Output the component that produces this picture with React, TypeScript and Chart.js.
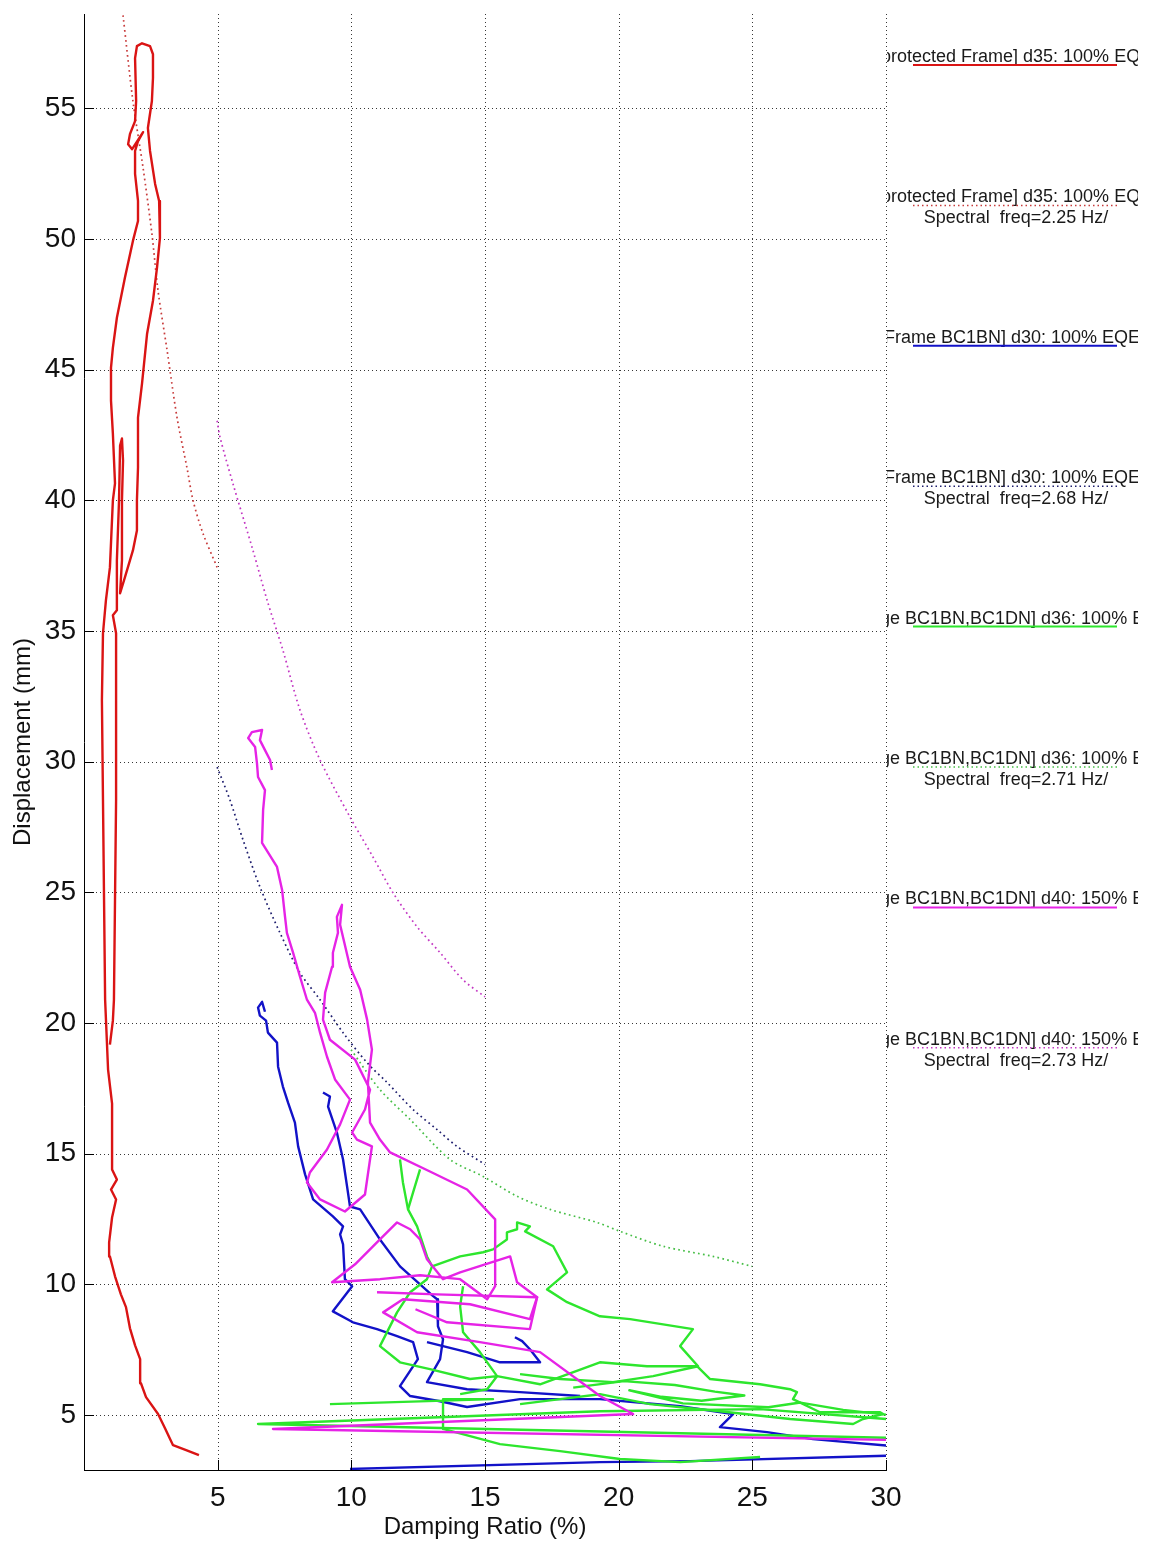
import React, { useEffect, useRef } from 'react';
import { Chart, registerables } from 'chart.js';

Chart.register(...registerables);

type Pt = [number, number];

// ---- axis ranges / ticks ----
const xRange: Pt = [0, 30];
const yRange: Pt = [2.9, 58.6];
const tickStep = 5;

// ---- series values: [damping ratio (%), displacement (mm)] ----
const redResponse: Pt[] = [
  [4.30,3.47],[3.82,3.66],[3.33,3.85],[3.03,4.50],[2.77,5.04],[2.32,5.69],[2.13,6.22],[2.10,7.14],[1.91,7.67],[1.72,8.32],
  [1.57,9.13],[1.38,9.62],[1.16,10.31],[0.97,11.07],[0.94,11.61],[1.05,12.56],[1.20,13.25],[1.01,13.63],[1.23,14.01],[1.05,14.40],
  [1.05,15.16],[1.05,16.92],[0.90,18.22],[0.79,20.89],[0.75,24.71],[0.71,28.53],[0.67,32.35],[0.71,34.91],[0.82,36.17],[0.97,37.43],
  [1.08,39.99],[1.16,40.64],[1.08,42.55],[1.01,43.81],[1.01,45.07],[1.08,45.83],[1.23,46.98],[1.53,48.51],[1.83,49.92],[2.02,50.68],
  [2.02,51.45],[1.91,52.48],[1.91,53.36],[2.02,53.74],[2.21,54.08],[1.80,53.43],[1.65,53.62],[1.72,54.01],[1.91,54.50],[1.95,55.27],
  [1.91,56.91],[1.98,57.37],[2.17,57.48],[2.47,57.37],[2.58,57.06],[2.58,56.15],[2.54,55.27],[2.39,54.24],[2.47,53.36],[2.66,52.10],
  [2.81,51.45],[2.84,50.03],[2.73,48.89],[2.58,47.63],[2.36,46.37],[2.17,44.46],[2.02,43.16],[2.02,41.25],[1.98,39.99],[1.98,38.84],
  [1.83,38.08],[1.53,37.05],[1.35,36.44],[1.42,37.70],[1.42,39.99],[1.46,41.52],[1.42,42.36],[1.35,42.09],[1.31,39.99],[1.23,37.70],
  [1.23,35.79],[1.08,35.60],[1.20,34.91],[1.20,32.35],[1.20,28.53],[1.16,24.71],[1.12,20.89],[1.08,20.09],[0.97,19.17],
];
const redSpectral: Pt[] = [
  [1.46,58.55],[1.83,55.27],[2.21,52.71],[2.54,50.19],[2.77,48.01],[3.11,45.72],[3.48,43.16],[3.85,41.25],[4.08,39.99],[4.45,38.73],[4.98,37.43],
];

const blueResponseA: Pt[] = [
  [6.77,20.43],[6.66,20.81],[6.51,20.59],[6.58,20.28],[6.81,20.09],[6.88,19.63],[7.22,19.25],[7.26,18.33],[7.44,17.57],[7.63,16.96],
  [7.89,16.19],[8.01,15.28],[8.27,14.21],[8.57,13.25],[9.31,12.60],[9.69,12.22],[9.58,11.91],[9.69,11.53],[9.76,10.20],[10.03,9.93],
  [9.31,8.97],[10.06,8.55],[10.96,8.29],[11.71,8.02],[12.31,7.79],[12.49,7.14],[11.82,6.11],[12.20,5.73],[13.32,5.53],[14.33,5.31],
  [16.31,5.61],[19.30,5.61],[22.30,5.34],[24.28,5.04],[23.79,4.54],[25.55,4.35],[27.27,4.08],[32.40,3.62],
];
const blueResponseB: Pt[] = [
  [8.94,17.34],[9.20,17.19],[9.13,16.80],[9.46,15.81],[9.69,14.78],[9.84,13.75],[9.95,12.98],[10.33,12.87],[11.07,11.72],[11.82,10.69],
  [13.06,9.55],[13.21,9.43],[13.24,8.40],[13.43,7.90],[13.32,7.14],[12.83,6.26],[14.33,5.99],[16.31,5.88],[18.56,5.73],
];
const blueResponseC: Pt[] = [
  [12.83,7.79],[14.33,7.41],[15.56,7.02],[17.06,7.02],[16.68,7.52],[16.39,7.83],[16.12,7.98],
];
const blueResponseD: Pt[] = [
  [32.40,3.51],[22.67,3.24],[19.30,3.20],[9.95,2.94],
];
const blueSpectral: Pt[] = [
  [4.98,29.79],[5.46,28.53],[5.95,27.00],[6.58,25.21],[7.33,23.45],[8.08,21.92],[8.83,20.89],[9.69,19.63],[10.59,18.48],[11.34,17.72],
  [12.31,16.69],[13.21,15.92],[13.95,15.28],[15.00,14.59],
];

const greenResponseA: Pt[] = [
  [11.82,14.78],[11.93,13.90],[12.12,12.87],[12.46,12.22],[12.83,11.07],[13.02,10.69],[12.83,10.20],[12.20,9.70],[11.71,8.93],[11.07,7.64],
  [11.82,7.02],[12.94,6.76],[14.44,6.38],[15.45,6.49],[15.08,5.99],[14.07,5.80],
];
const greenResponseB: Pt[] = [
  [12.57,14.40],[12.31,13.52],[12.12,12.87],
];
const greenResponseC: Pt[] = [
  [13.02,10.69],[14.07,11.07],[14.93,11.23],[15.30,11.34],[15.82,11.72],[15.82,11.99],[16.20,12.11],[16.20,12.37],[16.68,12.22],[16.50,12.03],
  [17.55,11.46],[18.07,10.46],[17.32,9.81],[18.07,9.32],[19.30,8.78],[20.43,8.67],[22.78,8.29],[22.30,7.64],[22.97,6.87],[21.29,6.49],
  [19.79,6.26],[17.81,6.38],[16.31,6.57],
];
const greenResponseD: Pt[] = [
  [14.18,9.93],[14.07,9.16],[14.18,8.17],[14.81,7.41],[15.45,6.49],[17.06,6.18],[19.30,7.02],[21.06,6.87],[22.93,6.87],[23.42,6.38],
  [25.29,6.18],[26.41,5.99],[26.67,5.88],[26.52,5.61],[27.53,5.11],[29.78,5.11],[29.89,5.04],[29.14,4.85],[28.77,4.66],[26.41,4.85],
  [23.79,5.15],[21.17,5.42],[19.30,5.80],[17.81,5.61],[16.31,5.42],
];
const greenResponseE: Pt[] = [
  [32.40,4.08],[6.51,4.66],[19.30,5.15],[25.29,5.23],[32.40,4.66],
];
const greenResponseF: Pt[] = [
  [9.20,5.42],[15.30,5.61],[13.43,5.61],[13.43,4.47],[15.56,3.89],[17.81,3.62],[20.05,3.32],[22.30,3.20],[25.29,3.40],
];
const greenResponseG: Pt[] = [
  [18.30,6.05],[20.20,6.30],[22.10,6.15],[23.60,5.90],[24.70,5.75],[23.10,5.55],[21.60,5.70],[20.40,5.95],[22.40,5.45],[25.60,5.30],
  [26.80,5.48],[28.40,5.20],[30.60,4.95],
];
const greenSpectral: Pt[] = [
  [9.99,18.98],[11.07,17.45],[12.20,16.31],[13.69,14.78],[14.93,14.13],[16.20,13.37],[17.43,12.87],[19.19,12.37],[20.05,12.03],[21.66,11.46],
  [23.53,11.07],[24.99,10.69],
];

const magentaResponse: Pt[] = [
  [7.03,29.68],[6.96,30.06],[6.77,30.44],[6.58,30.82],[6.66,31.21],[6.28,31.13],[6.14,30.90],[6.40,30.56],[6.47,29.94],[6.51,29.41],
  [6.77,28.91],[6.70,28.15],[6.66,26.89],[7.22,25.97],[7.41,25.09],[7.52,24.06],[7.59,23.45],[7.82,22.69],[8.08,21.77],[8.34,20.89],
  [8.64,20.39],[8.83,19.63],[9.09,18.71],[9.39,17.84],[9.95,17.07],[9.58,16.12],[9.09,15.16],[8.45,14.28],[8.34,13.90],[8.83,13.25],
  [9.76,12.79],[10.51,13.44],[10.77,15.28],[10.21,15.54],[10.03,15.81],[10.51,16.69],[10.70,17.45],[10.14,18.60],[9.20,19.36],[8.94,20.13],
  [9.02,21.16],[9.28,22.15],[9.31,22.69],[9.50,23.45],[9.46,24.06],[9.65,24.52],[9.58,23.76],[9.95,22.15],[10.33,21.27],[10.59,20.13],
  [10.77,18.98],[10.62,17.72],[10.70,16.19],[11.07,15.54],[11.45,15.05],[12.94,14.32],[14.33,13.63],[15.38,12.49],[15.38,11.34],[15.38,9.93],
  [15.08,9.43],[14.07,10.20],[12.57,10.35],[11.07,10.20],[9.28,10.08],[10.14,10.77],[11.07,11.72],[11.71,12.37],[12.20,12.11],[12.57,11.72],
  [12.83,10.96],[13.43,10.20],[14.07,10.46],[15.94,11.07],[16.20,10.08],[16.95,9.51],[16.68,8.67],[14.44,9.24],[11.93,9.43],[11.19,8.93],
  [12.46,8.17],[14.81,7.79],[17.06,7.41],[19.30,5.73],[20.54,5.04],[7.07,4.47],[32.40,4.01],
];
const magentaResponseB: Pt[] = [
  [10.96,9.70],[13.20,9.62],[16.95,9.51],[16.68,8.29],[13.58,8.55],[12.40,9.05],
];
const magentaSpectral: Pt[] = [
  [4.98,43.04],[5.09,42.40],[5.57,40.64],[6.32,38.08],[6.85,36.17],[7.44,34.26],[8.08,31.97],[8.83,30.06],[9.95,27.88],[10.81,26.35],
  [11.56,24.98],[12.46,23.68],[13.32,22.69],[14.18,21.65],[15.00,21.00],
];

// ---- legend text ----
const legendRows = [
  'protected Frame] d35: 100% EQ',
  'protected Frame] d35: 100% EQ',
  'Frame BC1BN] d30: 100% EQE',
  'Frame BC1BN] d30: 100% EQE',
  'ge BC1BN,BC1DN] d36: 100% E',
  'ge BC1BN,BC1DN] d36: 100% E',
  'ge BC1BN,BC1DN] d40: 150% E',
  'ge BC1BN,BC1DN] d40: 150% E',
];
const spectralFreqs = ['2.25', '2.68', '2.71', '2.73'];

const RED = 'rgb(218,20,20)';
const BLUE = 'rgb(18,18,200)';
const GREEN = 'rgb(45,230,45)';
const MAGENTA = 'rgb(230,35,230)';
const RED_DOT = 'rgb(200,60,60)';
const BLUE_DOT = 'rgb(30,30,110)';
const GREEN_DOT = 'rgb(70,190,70)';
const MAGENTA_DOT = 'rgb(195,55,195)';

const legendStyles = [
  { color: RED, dotted: false },
  { color: RED_DOT, dotted: true },
  { color: BLUE, dotted: false },
  { color: BLUE_DOT, dotted: true },
  { color: GREEN, dotted: false },
  { color: GREEN_DOT, dotted: true },
  { color: MAGENTA, dotted: false },
  { color: MAGENTA_DOT, dotted: true },
];

const FONT = '"Liberation Sans", Arial, Helvetica, sans-serif';

const toXY = (a: Pt[]) => a.map(([x, y]) => ({ x, y }));

const solid = (data: Pt[], color: string) => ({
  data: toXY(data), borderColor: color, backgroundColor: color, borderWidth: 2.4,
  showLine: true, pointRadius: 0, tension: 0, borderJoinStyle: 'round' as const,
});
const dotted = (data: Pt[], color: string) => ({
  data: toXY(data), borderColor: color, backgroundColor: color, borderWidth: 1.7,
  borderDash: [1.7, 3.3], showLine: true, pointRadius: 0, tension: 0.3,
});

const noPad = (s: any) => { s.paddingTop = 0; s.paddingBottom = 0; s.paddingLeft = 0; s.paddingRight = 0; };

const overlayPlugin = {
  id: 'matlabOverlay',
  beforeDatasetsDraw(chart: any) {
    const { ctx, chartArea: a, scales } = chart;
    const xs = scales.x, ys = scales.y;
    ctx.save();
    ctx.strokeStyle = 'rgba(20,20,20,0.85)';
    ctx.lineWidth = 1;
    ctx.setLineDash([1, 3]);
    ys.ticks.forEach((t: any) => {
      const py = Math.round(ys.getPixelForValue(t.value)) + 0.5;
      ctx.beginPath(); ctx.moveTo(a.left, py); ctx.lineTo(a.right, py); ctx.stroke();
    });
    xs.ticks.forEach((t: any) => {
      const px = Math.round(xs.getPixelForValue(t.value)) + 0.5;
      ctx.beginPath(); ctx.moveTo(px, a.top); ctx.lineTo(px, a.bottom); ctx.stroke();
    });
    ctx.restore();
  },
  afterDraw(chart: any) {
    const { ctx, chartArea: a, scales } = chart;
    const xs = scales.x, ys = scales.y;
    ctx.save();
    // inward tick marks
    ctx.strokeStyle = '#000';
    ctx.lineWidth = 1;
    ctx.setLineDash([]);
    ys.ticks.forEach((t: any) => {
      const py = Math.round(ys.getPixelForValue(t.value)) + 0.5;
      ctx.beginPath(); ctx.moveTo(a.left, py); ctx.lineTo(a.left + 10, py); ctx.stroke();
    });
    xs.ticks.forEach((t: any) => {
      const px = Math.round(xs.getPixelForValue(t.value)) + 0.5;
      ctx.beginPath(); ctx.moveTo(px, a.bottom); ctx.lineTo(px, a.bottom - 10); ctx.stroke();
    });
    ctx.restore();

    // clipped legend on the right
    const clipRight = 1138;
    ctx.save();
    ctx.beginPath();
    ctx.rect(a.right + 1, 0, clipRight - a.right - 1, chart.height);
    ctx.clip();
    ctx.font = `18px ${FONT}`;
    ctx.textBaseline = 'middle';
    ctx.fillStyle = '#1a1a1a';
    const startX = [881, 881, 884, 884, 880, 880, 880, 880];
    legendRows.forEach((label, i) => {
      const cy = 57 + i * 140.4;
      ctx.textAlign = 'left';
      ctx.fillText(label, startX[i], cy);
      const st = legendStyles[i];
      ctx.strokeStyle = st.color;
      ctx.lineWidth = st.dotted ? 1.5 : 2;
      ctx.setLineDash(st.dotted ? [1.5, 3] : []);
      ctx.beginPath(); ctx.moveTo(913, cy + 8); ctx.lineTo(1117, cy + 8); ctx.stroke();
      if (st.dotted) {
        ctx.textAlign = 'center';
        ctx.fillText(`Spectral  freq=${spectralFreqs[(i - 1) / 2]} Hz/`, 1016, cy + 21);
      }
    });
    ctx.restore();
  },
};

export default function App() {
  const ref = useRef<HTMLCanvasElement | null>(null);
  useEffect(() => {
    if (!ref.current) return;
    const chart = new Chart(ref.current, {
      type: 'scatter',
      data: {
        datasets: [
          solid(magentaResponse, MAGENTA),
          solid(magentaResponseB, MAGENTA),
          dotted(magentaSpectral, MAGENTA_DOT),
          solid(greenResponseA, GREEN),
          solid(greenResponseB, GREEN),
          solid(greenResponseC, GREEN),
          solid(greenResponseD, GREEN),
          solid(greenResponseE, GREEN),
          solid(greenResponseF, GREEN),
          solid(greenResponseG, GREEN),
          dotted(greenSpectral, GREEN_DOT),
          solid(blueResponseA, BLUE),
          solid(blueResponseB, BLUE),
          solid(blueResponseC, BLUE),
          solid(blueResponseD, BLUE),
          dotted(blueSpectral, BLUE_DOT),
          solid(redResponse, RED),
          dotted(redSpectral, RED_DOT),
        ] as any,
      },
      options: {
        animation: false,
        responsive: false,
        devicePixelRatio: 1,
        events: [],
        layout: { padding: { left: 0, top: 14, right: 272, bottom: 0 } },
        plugins: { legend: { display: false }, tooltip: { enabled: false } },
        scales: {
          x: {
            type: 'linear',
            min: xRange[0],
            max: xRange[1],
            afterFit: (s: any) => { s.height = 72; noPad(s); },
            afterBuildTicks: (s: any) => { s.ticks = s.ticks.filter((t: any) => t.value !== 0); },
            ticks: { stepSize: tickStep, autoSkip: false, maxRotation: 0, padding: 11, color: '#111', font: { family: FONT, size: 28 } },
            grid: { display: true, drawOnChartArea: false, drawTicks: false, color: 'rgba(0,0,0,0)' },
            border: { display: true, color: '#000', width: 1 },
            title: { display: true, text: 'Damping Ratio (%)', color: '#111', font: { family: FONT, size: 24 }, padding: { top: 0, bottom: 0 } },
          },
          y: {
            type: 'linear',
            min: yRange[0],
            max: yRange[1],
            afterFit: (s: any) => { s.width = 84; noPad(s); },
            ticks: { stepSize: tickStep, includeBounds: false, autoSkip: false, padding: 8, color: '#111', font: { family: FONT, size: 28 } },
            grid: { display: true, drawOnChartArea: false, drawTicks: false, color: 'rgba(0,0,0,0)' },
            border: { display: true, color: '#000', width: 1 },
            title: { display: true, text: 'Displacement (mm)', color: '#111', font: { family: FONT, size: 24 }, padding: { top: 9, bottom: 0 } },
          },
        },
      } as any,
      plugins: [overlayPlugin],
    });
    return () => chart.destroy();
  }, []);
  return (
    <div style={{ position: 'absolute', left: 0, top: 0, width: 1158, height: 1542, background: '#fff' }}>
      <canvas ref={ref} width={1158} height={1542} style={{ display: 'block', width: 1158, height: 1542 }} />
    </div>
  );
}
